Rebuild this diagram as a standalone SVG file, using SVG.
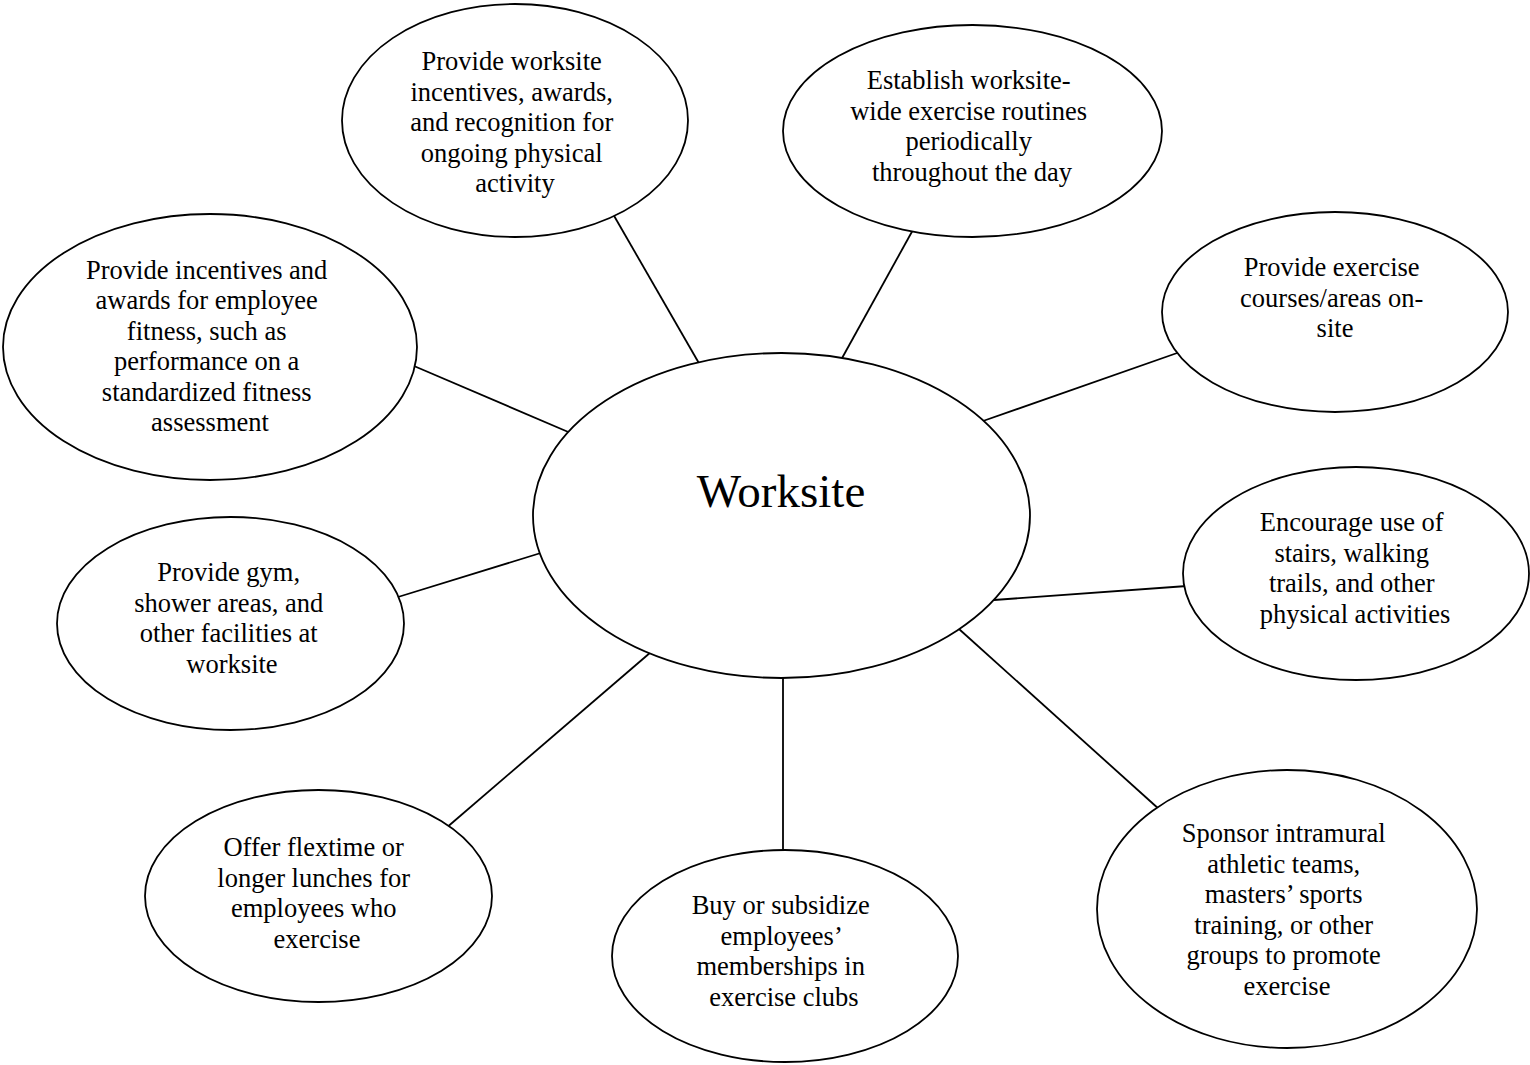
<svg xmlns="http://www.w3.org/2000/svg" width="1530" height="1065" viewBox="0 0 1530 1065">
  <style>
    .node { fill: #ffffff; stroke: #000000; stroke-width: 1.8; }
    .link { stroke: #000000; stroke-width: 1.8; fill: none; }
    .lbl { font-family: "Liberation Serif", "Times New Roman", serif; font-size: 26.5px; fill: #000000; text-anchor: middle; }
    .hub { font-family: "Liberation Serif", "Times New Roman", serif; font-size: 47px; fill: #000000; text-anchor: middle; }
  </style>
  <rect width="1530" height="1065" fill="#ffffff"/>

  <!-- spokes from the central node -->
  <g id="connectors">
    <line class="link" x1="613" y1="214" x2="700" y2="365"/>
    <line class="link" x1="914" y1="228" x2="841" y2="360"/>
    <line class="link" x1="1180" y1="352" x2="983" y2="421"/>
    <line class="link" x1="414" y1="366" x2="573" y2="434"/>
    <line class="link" x1="398" y1="597" x2="544" y2="552"/>
    <line class="link" x1="1187" y1="586" x2="994" y2="600"/>
    <line class="link" x1="1160" y1="810" x2="959" y2="629"/>
    <line class="link" x1="783" y1="674" x2="783" y2="854"/>
    <line class="link" x1="445" y1="829" x2="651" y2="652"/>
  </g>

  <g id="worksite">
    <ellipse class="node" cx="781.5" cy="515.5" rx="248.5" ry="162.5"/>
    <text class="hub" x="781" y="507">Worksite</text>
  </g>

  <g id="node-recognition">
    <ellipse class="node" cx="515" cy="120.5" rx="173" ry="116.5"/>
    <text class="lbl">
      <tspan x="515" y="70">Provide worksite</tspan>
      <tspan x="515" y="100.5">incentives, awards,</tspan>
      <tspan x="515" y="131">and recognition for</tspan>
      <tspan x="515" y="161.5">ongoing physical</tspan>
      <tspan x="515" y="192">activity</tspan>
    </text>
  </g>

  <g id="node-routines">
    <ellipse class="node" cx="972.5" cy="131" rx="189.5" ry="106"/>
    <text class="lbl">
      <tspan x="972" y="89">Establish worksite-</tspan>
      <tspan x="972" y="119.5">wide exercise routines</tspan>
      <tspan x="972" y="150">periodically</tspan>
      <tspan x="972" y="180.5">throughout the day</tspan>
    </text>
  </g>

  <g id="node-fitness-awards">
    <ellipse class="node" cx="210" cy="347" rx="207" ry="133"/>
    <text class="lbl">
      <tspan x="210" y="278.5">Provide incentives and</tspan>
      <tspan x="210" y="309">awards for employee</tspan>
      <tspan x="210" y="339.5">fitness, such as</tspan>
      <tspan x="210" y="370">performance on a</tspan>
      <tspan x="210" y="400.5">standardized fitness</tspan>
      <tspan x="210" y="431">assessment</tspan>
    </text>
  </g>

  <g id="node-courses">
    <ellipse class="node" cx="1335" cy="312" rx="173" ry="100"/>
    <text class="lbl">
      <tspan x="1335" y="276">Provide exercise</tspan>
      <tspan x="1335" y="306.5">courses/areas on-</tspan>
      <tspan x="1335" y="337">site</tspan>
    </text>
  </g>

  <g id="node-facilities">
    <ellipse class="node" cx="230.5" cy="623.5" rx="173.5" ry="106.5"/>
    <text class="lbl">
      <tspan x="232" y="581">Provide gym,</tspan>
      <tspan x="232" y="611.5">shower areas, and</tspan>
      <tspan x="232" y="642">other facilities at</tspan>
      <tspan x="232" y="672.5">worksite</tspan>
    </text>
  </g>

  <g id="node-stairs">
    <ellipse class="node" cx="1356" cy="573.5" rx="173" ry="106.5"/>
    <text class="lbl">
      <tspan x="1355" y="531">Encourage use of</tspan>
      <tspan x="1355" y="561.5">stairs, walking</tspan>
      <tspan x="1355" y="592">trails, and other</tspan>
      <tspan x="1355" y="622.5">physical activities</tspan>
    </text>
  </g>

  <g id="node-flextime">
    <ellipse class="node" cx="318.5" cy="896" rx="173.5" ry="106"/>
    <text class="lbl">
      <tspan x="317" y="856">Offer flextime or</tspan>
      <tspan x="317" y="886.5">longer lunches for</tspan>
      <tspan x="317" y="917">employees who</tspan>
      <tspan x="317" y="947.5">exercise</tspan>
    </text>
  </g>

  <g id="node-memberships">
    <ellipse class="node" cx="785" cy="956" rx="173" ry="106"/>
    <text class="lbl">
      <tspan x="784" y="914">Buy or subsidize</tspan>
      <tspan x="784" y="944.5">employees’</tspan>
      <tspan x="784" y="975">memberships in</tspan>
      <tspan x="784" y="1005.5">exercise clubs</tspan>
    </text>
  </g>

  <g id="node-teams">
    <ellipse class="node" cx="1287" cy="909" rx="190" ry="139"/>
    <text class="lbl">
      <tspan x="1287" y="842">Sponsor intramural</tspan>
      <tspan x="1287" y="872.5">athletic teams,</tspan>
      <tspan x="1287" y="903">masters’ sports</tspan>
      <tspan x="1287" y="933.5">training, or other</tspan>
      <tspan x="1287" y="964">groups to promote</tspan>
      <tspan x="1287" y="994.5">exercise</tspan>
    </text>
  </g>
</svg>
